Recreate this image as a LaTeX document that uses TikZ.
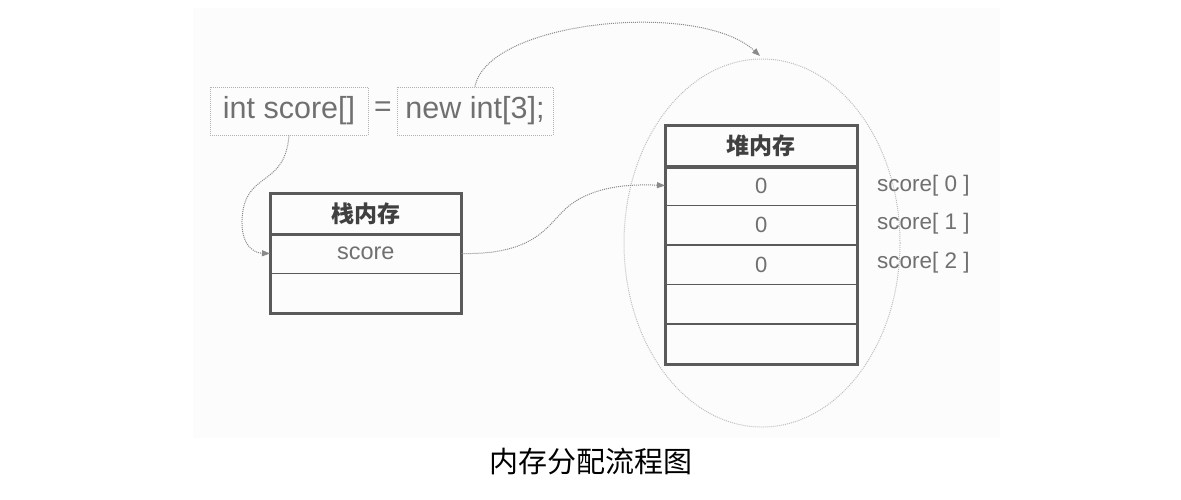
\documentclass[tikz,border=0pt]{standalone}
\usepackage{fontspec}
\setmainfont{Liberation Sans}
\newfontfamily\cjk{Noto Sans CJK SC}
\usetikzlibrary{arrows.meta,shapes.geometric}
\definecolor{frame}{HTML}{5A5A5A}
\definecolor{txt}{HTML}{707070}
\definecolor{conn}{HTML}{8A8A8A}
\begin{document}
\begin{tikzpicture}[x=1pt,y=-1pt,
  codebox/.style={draw=gray!60,densely dotted,line width=1pt,minimum height=48pt,inner sep=0pt,font=\fontsize{30.5}{32}\selectfont,text=txt},
  cell/.style={draw=frame,line width=1.5pt,minimum width=190pt,minimum height=39.5pt,inner sep=0pt,anchor=north west,text=txt,font=\fontsize{22}{24}\selectfont},
  headcell/.style={cell,minimum height=40pt,text=black!75,font=\cjk\bfseries\fontsize{23}{25}\selectfont},
  outer/.style={draw=frame,line width=3pt},
  lbl/.style={text=txt,font=\fontsize{22.5}{24}\selectfont,anchor=west,inner sep=0pt},
  conn/.style={draw=conn,densely dotted,line width=1pt,-{Triangle[length=8pt,width=6pt]}}
]
\useasboundingbox (0,0) rectangle (1181,499);
\fill[black!1] (193,8) rectangle (1000,438);

% code boxes
\node[codebox,minimum width=158pt] (codeL) at (289,111) {int score[]};
\node[text=txt,font=\fontsize{30}{32}\selectfont] (eq) at (383,109) {=};
\node[codebox,minimum width=156pt] (codeR) at (475,111) {new int[3];};

% heap ellipse
\node[ellipse,draw=gray!50,densely dotted,line width=1pt,minimum width=276pt,minimum height=368pt] (heap) at (762,243) {};

% stack table
\node[headcell] (sh) at (270,193) {栈内存};
\node[cell,font=\fontsize{23.5}{25}\selectfont] (s1) at (270,233) {score};
\node[cell] (s2) at (270,272.5) {};
\draw[outer] (sh.north west) rectangle (s2.south east);
\draw[frame,line width=3pt] (sh.south west) -- (sh.south east);

% heap table
\node[headcell,minimum width=191pt] (hh) at (665,125) {堆内存};
\node[cell,minimum width=191pt] (h1) at (665,165) {0};
\node[cell,minimum width=191pt] (h2) at (665,204.5) {0};
\node[cell,minimum width=191pt] (h3) at (665,244) {0};
\node[cell,minimum width=191pt] (h4) at (665,283.5) {};
\node[cell,minimum width=191pt] (h5) at (665,323) {};
\draw[outer] (hh.north west) rectangle (h5.south east);
\draw[frame,line width=4pt] (hh.south west) -- (hh.south east);

% labels
\node[lbl] (l0) at (877,186) {score[ 0 ]};
\node[lbl] (l1) at (877,224) {score[ 1 ]};
\node[lbl] (l2) at (877,263) {score[ 2 ]};

% connectors
\coordinate (heaptop) at (760,56);
\draw[conn] (codeR.north) .. controls (488,20) and (700,0) .. (heaptop);
\coordinate (bend1) at (243,210);
\draw[conn] (codeL.south) .. controls (285,185) and (250,172) .. (bend1) .. controls (238,242) and (252,253) .. (s1.west);
\coordinate (bend2) at (570,205);
\draw[conn] (s1.east) .. controls (540,255) and (548,222) .. (bend2) .. controls (595,186) and (630,184) .. (h1.west);

% caption
\node[font=\cjk\fontsize{29}{31}\selectfont] (cap) at (591,462) {内存分配流程图};
\end{tikzpicture}
\end{document}
